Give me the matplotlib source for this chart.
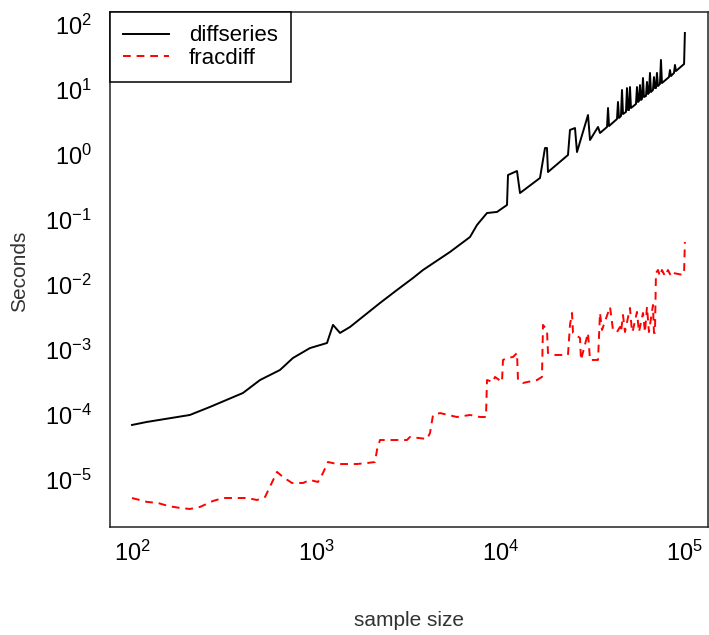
import matplotlib
matplotlib.use("Agg")
import matplotlib.pyplot as plt
from matplotlib.ticker import LogLocator, NullLocator

plt.rcParams["font.family"] = ["Liberation Sans", "DejaVu Sans"]
plt.rcParams["mathtext.fontset"] = "custom"
plt.rcParams["mathtext.rm"] = "Liberation Sans"
plt.rcParams["mathtext.it"] = "Liberation Sans:italic"
plt.rcParams["mathtext.bf"] = "Liberation Sans:bold"

# timings (sample size, seconds)
diff_n = [100, 120, 206, 265, 400, 495, 635, 747, 924, 1143, 1232, 1345, 1524,
          2216, 2741, 3347, 3793, 5314, 6823, 7447, 8437, 9561, 10833, 10970,
          12274, 12745, 16362, 17414, 17855, 18078, 23212, 23800, 25334, 25976,
          29806, 30564, 33778, 34633, 37806, 38280, 38760, 42820, 43356, 43900,
          45010, 45580, 46150, 47900, 48510, 49120, 49735, 50360, 50990, 54280,
          54960, 55650, 56350, 57060, 57780, 58500, 59240, 59980, 61500, 62270,
          63050, 63840, 64650, 65460, 67110, 67960, 68810, 69670, 70550, 71440,
          73240, 74160, 75090, 81980, 83020, 84060, 87270, 88370, 89470, 99000,
          100000]
diff_sec = [7.02e-5, 7.80e-5, 1.00e-4, 1.33e-4, 2.18e-4, 3.45e-4, 4.92e-4,
            7.53e-4, 1.07e-3, 1.28e-3, 2.43e-3, 1.83e-3, 2.26e-3, 5.28e-3,
            8.38e-3, 1.28e-2, 1.70e-2, 3.22e-2, 5.47e-2, 8.38e-2, 0.128, 0.133,
            0.170, 0.492, 0.567, 0.260, 0.443, 1.28, 1.28, 0.547, 1.00, 2.43,
            2.60, 1.11, 4.12, 1.70, 2.70, 2.18, 2.70, 5.28, 2.79, 3.58, 6.54,
            3.71, 3.98, 10.0, 4.27, 4.59, 10.7, 4.92, 4.92, 11.1, 5.28, 6.09,
            11.1, 6.54, 6.77, 11.9, 7.02, 7.27, 15.3, 7.80, 8.09, 13.3, 8.67,
            8.99, 18.3, 9.31, 10.0, 15.8, 10.7, 10.7, 18.3, 11.5, 12.4, 29.0,
            12.8, 15.8, 20.3, 16.4, 18.3, 24.3, 19.6, 25.1, 75.4]

frac_n = [100, 121, 138, 157, 182, 206, 234, 275, 312, 421, 477, 527, 612, 660,
          738, 847, 924, 1021, 1087, 1157, 1295, 1663, 1908, 2082, 2135, 2216,
          3106, 3223, 3988, 4140, 4298, 4692, 5800, 6823, 7732, 8333, 8437,
          9095, 9325, 10176, 10303, 10833, 11675, 12274, 12428, 13229, 15760,
          16773, 16985, 17855, 18078, 19245, 23212, 23800, 24406, 24711, 26968,
          27309, 29806, 30564, 33778, 34633, 35503, 39248, 40725, 42820, 44452,
          45010, 46150, 47315, 50360, 51635, 52285, 54960, 56350, 59240, 60740,
          62270, 63840, 67110, 67960, 68810, 69670, 71440, 73240, 75090, 77980,
          80940, 84060, 86150, 97630, 99000, 100000]
frac_sec = [5.28e-6, 4.59e-6, 4.43e-6, 3.98e-6, 3.71e-6, 3.58e-6, 3.85e-6,
            4.75e-6, 5.28e-6, 5.28e-6, 4.92e-6, 5.47e-6, 1.33e-5, 1.11e-5,
            8.99e-6, 8.99e-6, 1.00e-5, 9.31e-6, 1.28e-5, 1.89e-5, 1.76e-5,
            1.76e-5, 1.83e-5, 1.89e-5, 2.90e-5, 4.12e-5, 4.12e-5, 4.59e-5,
            4.27e-5, 5.28e-5, 1.00e-4, 1.07e-4, 9.31e-5, 1.00e-4, 9.31e-5,
            9.31e-5, 3.45e-4, 3.22e-4, 3.85e-4, 3.22e-4, 7.02e-4, 7.53e-4,
            7.80e-4, 8.99e-4, 3.45e-4, 3.11e-4, 3.45e-4, 3.85e-4, 2.43e-3,
            2.03e-3, 8.99e-4, 8.38e-4, 8.38e-4, 2.43e-3, 3.71e-3, 1.83e-3,
            1.53e-3, 7.02e-4, 1.83e-3, 7.02e-4, 7.02e-4, 3.71e-3, 2.03e-3,
            4.59e-3, 2.03e-3, 1.89e-3, 2.26e-3, 1.89e-3, 3.45e-3, 1.89e-3,
            4.43e-3, 1.89e-3, 2.03e-3, 3.85e-3, 1.89e-3, 3.71e-3, 1.89e-3,
            4.59e-3, 1.89e-3, 4.92e-3, 1.83e-3, 1.83e-3, 1.53e-2, 1.70e-2,
            1.37e-2, 1.70e-2, 1.37e-2, 1.70e-2, 1.37e-2, 1.53e-2, 1.43e-2,
            1.53e-2, 4.59e-2]

fig = plt.figure(figsize=(7.09, 6.35), dpi=100)
ax = fig.add_axes([110 / 709, 108 / 635, 598 / 709, 515 / 635])

ax.plot(diff_n, diff_sec, color="black", lw=1.4, label="diffseries")
ax.plot(frac_n, frac_sec, color="red", lw=1.4, dashes=(4, 3), label="fracdiff")

ax.set_xscale("log")
ax.set_yscale("log")
ax.set_xlim(75.96, 133490)
ax.set_ylim(1.89e-6, 158.5)
ax.xaxis.set_major_locator(LogLocator(base=10, numticks=10))
ax.yaxis.set_major_locator(LogLocator(base=10, numticks=12))
ax.xaxis.set_minor_locator(NullLocator())
ax.yaxis.set_minor_locator(NullLocator())
ax.tick_params(axis="both", length=0, labelsize=17)
ax.tick_params(axis="x", pad=10)
ax.tick_params(axis="y", pad=13)

for s in ax.spines.values():
    s.set_linewidth(1.1)
    s.set_color("#222222")

ax.set_xlabel("sample size", fontsize=15, va="center", color="#333333")
ax.xaxis.set_label_coords(0.5, -0.1825)
ax.set_ylabel("Seconds", fontsize=15, va="center", color="#333333")
ax.yaxis.set_label_coords(-0.1505, 0.497)

leg = ax.legend(loc="upper left", borderaxespad=0, fontsize=16, fancybox=False,
                framealpha=1, edgecolor="black", borderpad=0.6,
                labelspacing=0.08, handlelength=2.05, handletextpad=0.9)
leg.get_frame().set_linewidth(1.1)

fig.savefig("out.png", dpi=100)
